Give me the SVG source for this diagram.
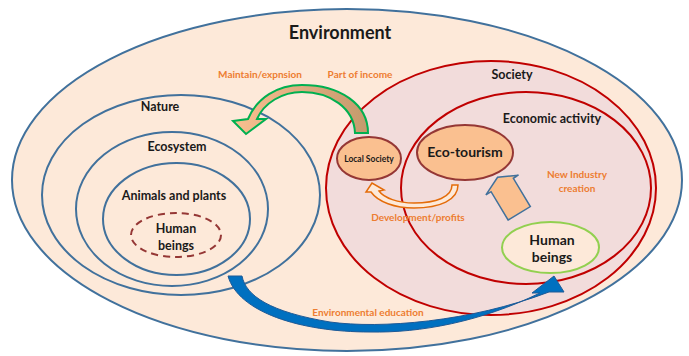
<svg xmlns="http://www.w3.org/2000/svg" width="689" height="356" viewBox="0 0 689 356">
<defs>
<style>
.bl{stroke:#41719c;stroke-width:2;fill:#fde9d9}
.rd{stroke:#c00000;stroke-width:2;fill:#f2dcdb}
.t{font-family:Lato,"Liberation Sans",sans-serif;font-weight:bold;fill:#1a1a1a;text-anchor:middle}
.o{font-family:Lato,"Liberation Sans",sans-serif;font-weight:bold;fill:#ed7d31;text-anchor:middle;font-size:10px}
</style>
<linearGradient id="gg" x1="368" y1="0" x2="232" y2="0" gradientUnits="userSpaceOnUse">
<stop offset="0" stop-color="#c49a6c"/>
<stop offset="0.45" stop-color="#dcaa7e"/>
<stop offset="1" stop-color="#fac090"/>
</linearGradient>
</defs>
<rect width="689" height="356" fill="#ffffff"/>
<g id="environment">
<ellipse class="bl" cx="347" cy="180" rx="335" ry="171"/>
<text class="t" x="340" y="39" font-size="18">Environment</text>
</g>
<g id="nature">
<ellipse class="bl" cx="181" cy="195" rx="139" ry="100"/>
<text class="t" x="160" y="111" font-size="12.5">Nature</text>
</g>
<g id="ecosystem">
<ellipse class="bl" cx="172" cy="209" rx="96" ry="77"/>
<text class="t" x="177" y="151" font-size="12.5">Ecosystem</text>
</g>
<g id="animals">
<ellipse class="bl" cx="176.5" cy="219" rx="73.5" ry="56"/>
<text class="t" x="174" y="200" font-size="12.5">Animals and plants</text>
</g>
<g id="human-left">
<ellipse cx="176" cy="235" rx="45" ry="22" fill="none" stroke="#953735" stroke-width="2" stroke-dasharray="7,5"/>
<text class="t" x="176" y="233" font-size="12.5">Human</text>
<text class="t" x="176" y="250" font-size="12.5">beings</text>
</g>
<g id="society">
<ellipse class="rd" cx="491" cy="188" rx="165" ry="127"/>
<text class="t" x="512" y="79" font-size="12.5">Society</text>
</g>
<g id="economic">
<ellipse class="rd" cx="526" cy="188" rx="125" ry="96"/>
<text class="t" x="552" y="123" font-size="12.5">Economic activity</text>
</g>
<g id="local-society">
<ellipse cx="369" cy="158.5" rx="32" ry="21.5" fill="#fac090" stroke="#953735" stroke-width="2"/>
<text class="t" x="369" y="162" font-size="8.5">Local Society</text>
</g>
<g id="eco-tourism">
<ellipse cx="465" cy="152.5" rx="48" ry="27.5" fill="#fac090" stroke="#953735" stroke-width="2"/>
<text class="t" x="465" y="157" font-size="14">Eco-tourism</text>
</g>
<g id="human-right">
<ellipse cx="550.5" cy="247.5" rx="48.5" ry="25.5" fill="#fde9d9" stroke="#92d050" stroke-width="2"/>
<text class="t" x="552" y="245" font-size="14">Human</text>
<text class="t" x="552" y="262" font-size="14">beings</text>
</g>
<g id="connectors">
<path d="M368,133 C368,104 340,85 302,85 C277,85 257,98 248,119 L233,121 L246,134 L266,119 L257,119 C264,103 282,92 302,92 C330,92 354,108 355,133 Z" fill="url(#gg)" stroke="#00b050" stroke-width="2" stroke-linejoin="miter"/>
<path d="M458,185 C458,200 440,208 414,208 C395,208 378,202 371,192 L366,192 L372,183 L384,190 L379,191 C384,198 398,203 414,203 C436,203 452,197 452,185 Z" fill="#fde9d9" stroke="#e46c0a" stroke-width="1.5"/>
<path d="M228,276 L242,276 C246,296 270,312 330,322 C380,329 470,322 549,292 L564,292 L554,276 L532,293 L540,293 C480,322 420,333 370,332 C300,332 238,312 228,276 Z" fill="#0070c0" stroke="#1f5a96" stroke-width="1"/>
<path transform="translate(519.2,213.3) rotate(-31)" d="M-13,0 L13,0 L13,-33 L19,-33 L0,-42 L-19,-33 L-13,-33 Z" fill="#fac090" stroke="#41719c" stroke-width="1.5"/>
<text class="o" x="260" y="78">Maintain/expnsion</text>
<text class="o" x="360" y="78">Part of income</text>
<text class="o" x="418" y="221">Development/profits</text>
<text class="o" x="577" y="178">New Industry</text>
<text class="o" x="577" y="192">creation</text>
<text class="o" x="368" y="316">Environmental education</text>
</g>
</svg>
